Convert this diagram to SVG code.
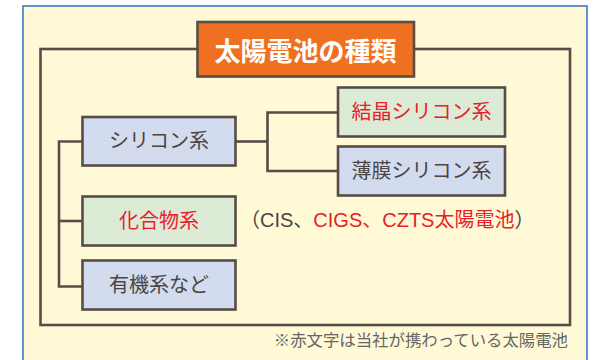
<svg xmlns="http://www.w3.org/2000/svg" width="601" height="360" viewBox="0 0 601 360">
<style>
.box{stroke:#564d48;stroke-width:2.6}
.blue{fill:#d3dbee}
.green{fill:#dcebd5}
.line{fill:none;stroke:#564d48;stroke-width:2.6}
.t{font-family:"Noto Sans CJK JP","Noto Sans",sans-serif;font-size:20px;text-anchor:middle;fill:#4a4545}
.red{fill:#e8202a}
</style>
<rect x="23" y="6" width="564" height="360" fill="#fff9d6" stroke="#3b7cc4" stroke-width="1.6"/>
<g id="connectors">
<rect x="40.5" y="49" width="529.5" height="276" class="line"/>
<polyline class="line" points="82,141.5 59,141.5 59,286.5 82,286.5"/>
<line class="line" x1="59" y1="221" x2="82" y2="221"/>
<polyline class="line" points="236,141.5 267.5,141.5"/>
<polyline class="line" points="338,112.5 267.5,112.5 267.5,171 338,171"/>
</g>
<g id="title">
<rect x="197.5" y="22" width="216.5" height="54.5" fill="#f07022" class="box"/>
<text x="305.5" y="60.5" class="t" style="font-size:26px;font-weight:bold;fill:#fff">太陽電池の種類</text>
</g>
<g id="silicon">
<rect x="82.5" y="117" width="153" height="48.5" class="box blue"/>
<text x="159" y="148" class="t">シリコン系</text>
</g>
<g id="crystal">
<rect x="338" y="87.5" width="167" height="49" class="box green"/>
<text x="421.5" y="119" class="t red">結晶シリコン系</text>
</g>
<g id="thinfilm">
<rect x="338" y="146.5" width="167" height="49" class="box blue"/>
<text x="421.5" y="178" class="t">薄膜シリコン系</text>
</g>
<g id="compound">
<rect x="82.5" y="196.5" width="153" height="49" class="box green"/>
<text x="159" y="228" class="t red">化合物系</text>
</g>
<g id="organic">
<rect x="82.5" y="260.5" width="153" height="49" class="box blue"/>
<text x="159" y="292" class="t">有機系など</text>
</g>
<text x="240" y="227" class="t" style="text-anchor:start;font-family:'Liberation Sans','Noto Sans CJK JP',sans-serif">（CIS、<tspan class="red">CIGS、CZTS太陽電池</tspan>）</text>
<text x="568" y="346" class="t" style="font-size:16.4px;text-anchor:end;fill:#666">※赤文字は当社が携わっている太陽電池</text>
</svg>
